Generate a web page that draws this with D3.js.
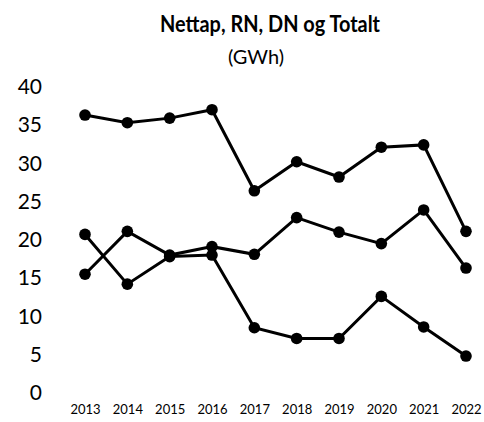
<!DOCTYPE html>
<html>
<head>
<meta charset="utf-8">
<script src="https://cdn.jsdelivr.net/npm/d3@7"></script>
<style>
  body { margin: 0; background: #fff; }
  text { font-family: Lato, "Open Sans", sans-serif; fill: #000; }
</style>
</head>
<body>
<div id="chart"></div>
<script>
// data (GWh)
const years = ["2013","2014","2015","2016","2017","2018","2019","2020","2021","2022"];
const rn = [15.4, 21.0, 17.9, 19.0, 18.0, 22.8, 20.9, 19.4, 23.8, 16.2];
const dn = [20.6, 14.1, 17.7, 17.9, 8.4, 7.0, 7.0, 12.5, 8.5, 4.7];
const totalt = [36.2, 35.2, 35.8, 36.9, 26.3, 30.1, 28.1, 32.0, 32.3, 21.0];
const yTicks = [0, 5, 10, 15, 20, 25, 30, 35, 40];

const w = 484, h = 422;

const svg = d3.select("#chart")
    .append("svg")
    .attr("width", w)
    .attr("height", h);

// title + unit
svg.append("text")
    .attr("x", 270).attr("y", 32)
    .attr("text-anchor", "middle")
    .attr("font-size", "23px")
    .attr("font-weight", "bold")
    .attr("textLength", 220)
    .attr("lengthAdjust", "spacingAndGlyphs")
    .text("Nettap, RN, DN og Totalt");
svg.append("text")
    .attr("x", 256).attr("y", 64)
    .attr("text-anchor", "middle")
    .attr("font-size", "20px")
    .text("(GWh)");

const x = d3.scalePoint()
    .domain(years)
    .range([85, 466]);

const y = d3.scaleLinear()
    .domain([0, 40])
    .range([392, 86]);

// y axis: labels only
const yAxis = svg.append("g")
    .attr("transform", "translate(42,0)")
    .call(d3.axisLeft(y).tickValues(yTicks).tickSize(0).tickPadding(0));
yAxis.select(".domain").remove();
yAxis.selectAll("text")
    .attr("font-size", "21px")
    .style("font-family", "Lato, sans-serif")
    .attr("dy", "0.36em");

// x axis: labels only
const xAxis = svg.append("g")
    .attr("transform", "translate(0,405)")
    .call(d3.axisBottom(x).tickSize(0).tickPadding(0));
xAxis.select(".domain").remove();
xAxis.selectAll("text")
    .attr("font-size", "13px")
    .style("font-family", "Lato, sans-serif");

const series = [rn, dn, totalt];
const line = d3.line()
    .x((d, i) => x(years[i]))
    .y(d => y(d));

series.forEach(s => {
    svg.append("path")
        .datum(s)
        .attr("d", line)
        .attr("fill", "none")
        .attr("stroke", "#000")
        .attr("stroke-width", 3);
    svg.selectAll(null)
        .data(s)
        .enter()
        .append("circle")
        .attr("cx", (d, i) => x(years[i]))
        .attr("cy", d => y(d))
        .attr("r", 5.8)
        .attr("fill", "#000");
});
</script>
</body>
</html>
